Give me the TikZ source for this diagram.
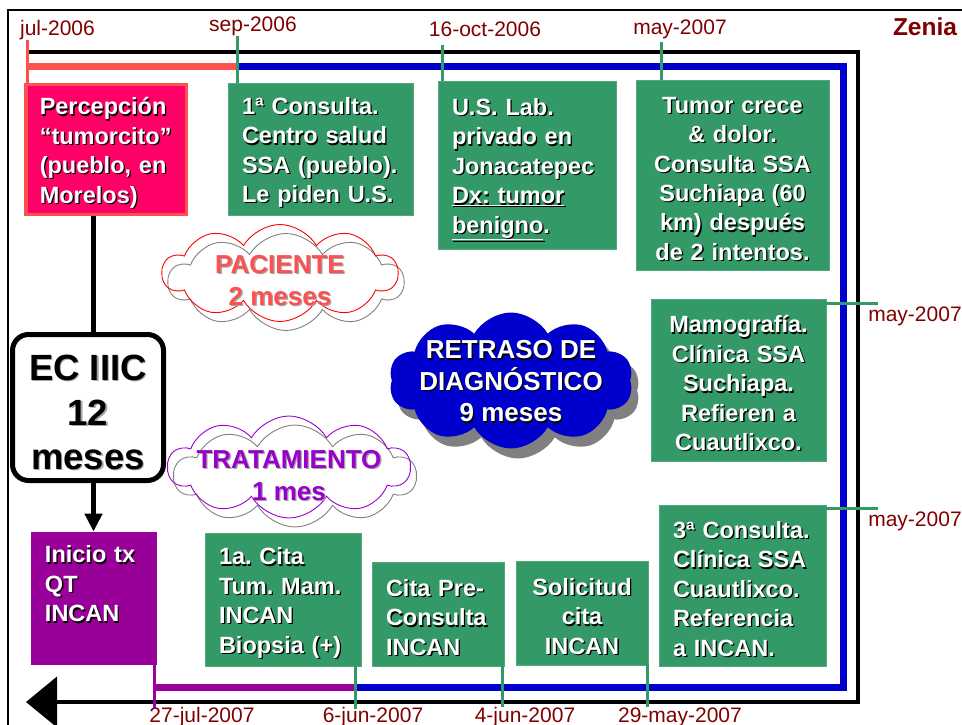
\documentclass[tikz,border=0pt]{standalone}
\usepackage{fontspec}
\setmainfont{Liberation Sans}
\usetikzlibrary{shapes.symbols,arrows.meta,calc}
\definecolor{grn}{RGB}{51,153,102}
\definecolor{blu}{RGB}{0,0,204}
\definecolor{salm}{RGB}{255,80,80}
\definecolor{pnk}{RGB}{255,0,102}
\definecolor{purp}{RGB}{153,0,153}
\definecolor{viol}{RGB}{153,0,204}
\definecolor{dred}{RGB}{128,0,0}
\frenchspacing
\newcommand\shd[2][black]{\mbox{\rlap{\kern1.3pt\raisebox{-1.3pt}{\textcolor{#1}{#2}}}#2}}
\newcommand\boxfont{\fontsize{23.5}{29.4}\selectfont\bfseries\frenchspacing}
\newcommand\cloudfont{\fontsize{26}{31.5}\selectfont\bfseries}
\newcommand\datefont{\fontsize{21}{24}\selectfont}
\newcommand\cloudtext[2][0pt]{\raisebox{#1}[0pt][0pt]{\makebox[0pt]{\parbox[t]{300pt}{\centering #2}}}}
\tikzset{
  box/.style={rectangle, fill=grn, draw=grn!85!white, line width=0.8pt, text=white,
    inner xsep=14pt, inner ysep=0pt, font=\boxfont, text height=25pt},
  lbox/.style={box, align=left},
  cbox/.style={box, align=center},
  datelbl/.style={text=dred, font=\datefont, inner sep=0pt},
  tick/.style={draw=grn, line width=3pt},
  blackline/.style={draw=black, line width=4pt},
  colline/.style={line width=7pt},
  cloudbase/.style={cloud, cloud puffs=10, cloud puff arc=120, cloud ignores aspect,
    inner sep=0pt, font=\cloudfont},
  outlineshadow/.style={preaction={draw=gray, line width=0.9pt,
    transform canvas={shift={(6pt,-9pt)}}}},
  fillshadow/.style={preaction={fill=gray, draw=none,
    transform canvas={shift={(7pt,-10pt)}}}},
  thickconn/.style={draw=black, line width=5pt}
}
\begin{document}
\begin{tikzpicture}[x=1pt,y=-1pt]
\useasboundingbox (0,0) rectangle (962,725);
% slide frame
\draw[line width=2pt] (8,725) -- (8,10) -- (962,10);

% timeline coordinates
\coordinate (k0) at (27,52);
\coordinate (k1) at (858,52);
\coordinate (k2) at (858,702);
\coordinate (k3) at (26,702);
\draw[blackline, -{Triangle[length=31pt,width=50pt]}] (k0) -- (k1) -- (k2) -- (k3);

\coordinate (c0) at (27,67);
\coordinate (c1) at (237,67);
\coordinate (c2) at (843,67);
\coordinate (c3) at (843,687);
\coordinate (c4) at (355,687);
\coordinate (c5) at (154,687);
\draw[colline, draw=salm] (c0) -- (c1);
\draw[colline, draw=blu] (c1) -- (c2) -- (c3) -- (c4);
\draw[colline, draw=purp] (c4) -- (c5);

% boxes
\node[lbox, fill=pnk, draw=salm, line width=3.5pt, text width=132.5pt, minimum height=129.5pt] (red) at (106,149.5)
  {\shd{Percepción}\\\shd{“tumorcito”}\\\shd{(pueblo, en}\\\shd{Morelos)}};
\node[lbox, text width=157pt, minimum height=132pt] (b1) at (320.5,149)
  {\shd{1ª Consulta.}\\\shd{Centro salud}\\\shd{SSA (pueblo).}\\\shd{Le piden U.S.}};
\node[lbox, text width=150pt, minimum height=168pt, text height=27pt] (b2) at (527,165)
  {\shd{U.S. Lab.}\\\shd{privado en}\\\shd{Jonacatepec}\\\shd{\underline{Dx: tumor}}\\\shd{\underline{benigno}.}};
\node[cbox, text width=165pt, minimum height=190pt] (b3) at (732.5,175)
  {\shd{Tumor crece}\\\shd{\& dolor.}\\\shd{Consulta SSA}\\\shd{Suchiapa (60}\\\shd{km) después}\\\shd{de 2 intentos.}};
\node[cbox, text width=147pt, minimum height=162pt] (b4) at (738.5,380)
  {\shd{Mamografía.}\\\shd{Clínica SSA}\\\shd{Suchiapa.}\\\shd{Refieren a}\\\shd{Cuautlixco.}};
\node[lbox, text width=139pt, minimum height=161pt] (b5) at (742.5,585.5)
  {\shd{3ª Consulta.}\\\shd{Clínica SSA}\\\shd{Cuautlixco.}\\\shd{Referencia}\\\shd{a INCAN.}};
\node[cbox, text width=104pt, minimum height=104pt] (b6) at (582,613)
  {\shd{Solicitud}\\\shd{cita}\\\shd{INCAN}};
\node[lbox, text width=104pt, minimum height=104pt] (b7) at (438,614)
  {\shd{Cita Pre-}\\\shd{Consulta}\\\shd{INCAN}};
\node[lbox, text width=128pt, minimum height=133pt] (b8) at (283,599.5)
  {\shd{1a. Cita}\\\shd{Tum. Mam.}\\\shd{INCAN}\\\shd{Biopsia (+)}};
\node[lbox, fill=purp, draw=purp, text width=97pt, minimum height=132pt, text height=27pt] (pur) at (93.5,598)
  {\shd{Inicio tx}\\\shd{QT}\\\shd{INCAN}\\\strut};

% stage box
\node[rectangle, rounded corners=16pt, draw=black, line width=5pt, fill=white,
  minimum width=151pt, minimum height=146pt, inner sep=0pt, align=center, text height=126pt,
  font=\fontsize{36.5}{44.5}\selectfont\bfseries] (ec) at (88,407.5)
  {\shd[gray!70]{EC IIIC}\\\shd[gray!70]{12}\\\shd[gray!70]{meses}};
\draw[thickconn] (red.south -| pur.north) -- (ec.north -| pur.north);
\draw[thickconn, -{Triangle[length=18pt,width=17pt]}] (ec.south -| pur.north) -- (pur.north);

% clouds
\node[cloudbase, draw=red, line width=0.9pt, outlineshadow, text=salm,
  minimum width=235pt, minimum height=97pt] (pac) at (280,273)
  {\cloudtext[-0.5pt]{\shd[gray!70]{PACIENTE}\\\shd[gray!70]{2 meses}}};
\node[cloudbase, draw=viol, line width=0.9pt, outlineshadow, text=viol,
  minimum width=242pt, minimum height=102pt] (trat) at (289,467)
  {\cloudtext[-1.5pt]{\shd[gray!70]{TRATAMIENTO}\\\shd[gray!70]{1 mes}}};
\node[cloudbase, fill=blu, fillshadow, text=white,
  minimum width=244pt, minimum height=136pt] (ret) at (511,380.5)
  {\cloudtext[21.7pt]{\shd{RETRASO DE}\\\shd{DIAGNÓSTICO}\\\shd{9 meses}}};

% date labels
\node[datelbl] (ljul) at (57.5,30) {jul-2006};
\node[datelbl] (lsep) at (253,26) {sep-2006};
\node[datelbl] (loct) at (485,29) {16-oct-2006};
\node[datelbl] (lmay) at (680,29) {may-2007};
\node[text=dred, font=\fontsize{24.5}{28}\selectfont\bfseries, inner sep=0pt] (zen) at (925,27) {Zenia};
\node[datelbl] (lr1) at (915,316) {may-2007};
\node[datelbl] (lr2) at (915,521) {may-2007};
\node[datelbl] (ljul7) at (202,717) {27-jul-2007};
\node[datelbl] (ljun6) at (373,717) {6-jun-2007};
\node[datelbl] (ljun4) at (525,717) {4-jun-2007};
\node[datelbl] (lmay29) at (680,717) {29-may-2007};

% ticks
\coordinate (tjul) at (27,40);
\coordinate (tsep) at (237,36);
\coordinate (toct) at (442,45);
\coordinate (tmay) at (661,42);
\coordinate (tr1) at (878,303);
\coordinate (tr2) at (878,508);
\coordinate (tb1) at (154,708);
\coordinate (tb2) at (355,709);
\coordinate (tb3) at (502,707);
\coordinate (tb4) at (647,707);
\draw[tick, draw=salm] (tjul) -- (tjul |- red.north);
\draw[tick] (tsep) -- (tsep |- b1.north);
\draw[tick] (toct) -- (toct |- b2.north);
\draw[tick] (tmay) -- (tmay |- b3.north);
\draw[tick] (tr1) -- (tr1 -| b4.east);
\draw[tick] (tr2) -- (tr2 -| b5.east);
\draw[tick, draw=purp] (tb1) -- (tb1 |- pur.south);
\draw[tick] (tb2) -- (tb2 |- b8.south);
\draw[tick] (tb3) -- (tb3 |- b7.south);
\draw[tick] (tb4) -- (tb4 |- b6.south);
\end{tikzpicture}
\end{document}
